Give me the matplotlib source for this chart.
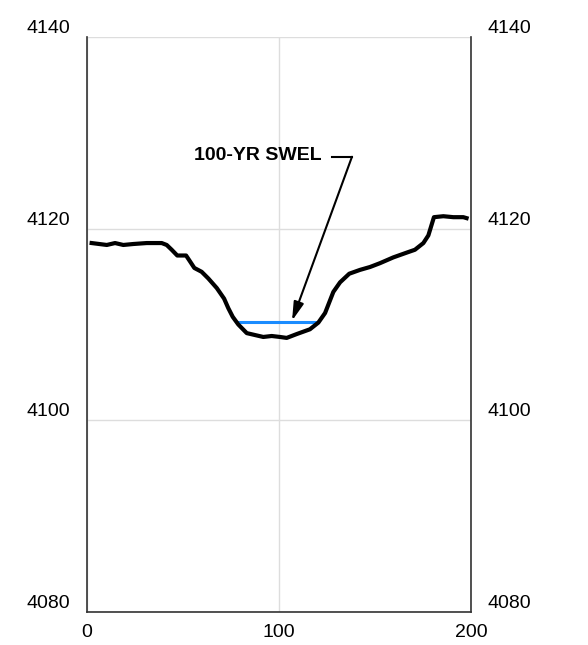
import matplotlib
matplotlib.use("Agg")
import matplotlib.pyplot as plt

# ground profile (station, elevation)
station = [2.4, 10.3, 14.6, 18.9, 24.1, 31.1, 38.9, 41.5, 44.1, 47.0, 51.6, 53.6,
           55.9, 59.7, 63.2, 67.6, 71.4, 73.6, 75.9, 78.8, 83.2, 87.5, 91.8, 96.2,
           100.5, 104.0, 109.2, 116.1, 120.5, 124.0, 128.3, 131.8, 136.6, 142.2,
           147.4, 152.6, 159.5, 166.5, 170.8, 175.2, 177.8, 180.7, 185.6, 190.8,
           196.0, 197.7]
elev = [4118.5, 4118.3, 4118.5, 4118.3, 4118.4, 4118.5, 4118.5, 4118.3, 4117.8,
        4117.2, 4117.2, 4116.6, 4115.9, 4115.5, 4114.8, 4113.8, 4112.7, 4111.7,
        4110.8, 4110.0, 4109.1, 4108.9, 4108.7, 4108.8, 4108.7, 4108.6, 4109.0,
        4109.5, 4110.2, 4111.2, 4113.4, 4114.4, 4115.3, 4115.7, 4116.0, 4116.4,
        4117.0, 4117.5, 4117.8, 4118.5, 4119.3, 4121.2, 4121.3, 4121.2, 4121.2,
        4121.1]

# 100-yr still water elevation
swel_x = [78.0, 120.0]
swel_y = [4110.3, 4110.3]

xticks = [0, 100, 200]
yticks = [4080, 4100, 4120, 4140]

plt.rcParams['font.family'] = ['Liberation Sans', 'DejaVu Sans']

fig = plt.figure(figsize=(5.88, 6.45), dpi=100)
ax = fig.add_axes([0.148, 0.0512, 0.653, 0.8914])

ax.set_xlim(0, 200)
ax.set_ylim(4080, 4140)
ax.set_xticks(xticks)
ax.set_yticks(yticks)
ax.grid(True, color='#dddddd', lw=1)
ax.set_axisbelow(True)

for side in ['left', 'right', 'bottom']:
    ax.spines[side].set_color('#333333')
    ax.spines[side].set_linewidth(1.2)
ax.spines['top'].set_visible(False)

ax.tick_params(axis='x', length=0, pad=9, labelsize=14)
ax.tick_params(axis='y', length=0, pad=12, labelsize=14,
               labelleft=True, labelright=True)
ax.set_yticklabels([str(v) for v in yticks], va='bottom')

ax.plot(station, elev, color='black', lw=3, solid_joinstyle='round', zorder=3)
ax.plot(swel_x, swel_y, color='#1a8cff', lw=2.2, zorder=2)

# label with leader
ax.text(122.4, 4127.6, '100-YR SWEL', ha='right', va='center',
        fontsize=14, fontweight='bold')
ax.plot([127.6, 138.0], [4127.5, 4127.5], color='black', lw=1.5)
ax.annotate('', xy=(106.8, 4110.4), xytext=(138.0, 4127.5),
            arrowprops=dict(arrowstyle='-|>,head_length=0.8,head_width=0.22',
                            color='black', lw=1.5, mutation_scale=14,
                            shrinkA=0, shrinkB=0))

fig.savefig('out.png', dpi=100)
